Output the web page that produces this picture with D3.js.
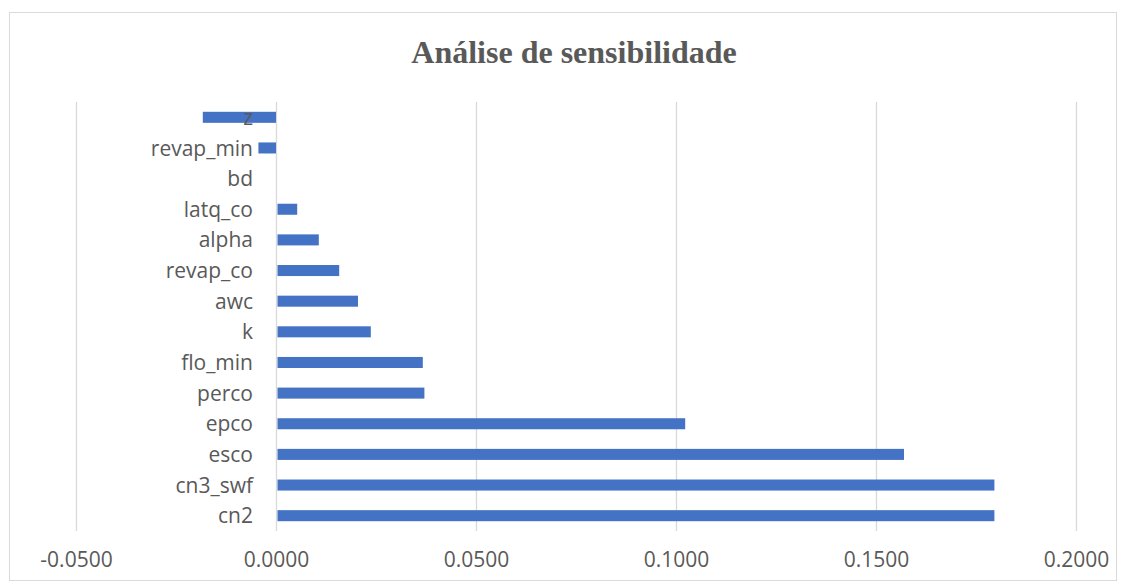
<!DOCTYPE html>
<html>
<head>
<meta charset="utf-8">
<script src="https://cdn.jsdelivr.net/npm/d3@7"></script>
<style>
  body { margin: 0; background: #fff; }
</style>
</head>
<body>
<svg id="chart"></svg>
<script>
// categories listed top to bottom
var categories = ["z", "revap_min", "bd", "latq_co", "alpha", "revap_co", "awc", "k",
                  "flo_min", "perco", "epco", "esco", "cn3_swf", "cn2"];
var values = [-0.0183, -0.0044, 0.0000, 0.0053, 0.0107, 0.0158, 0.0205, 0.0237,
              0.0367, 0.0371, 0.1023, 0.1570, 0.1796, 0.1796];
var ticks = [-0.05, 0, 0.05, 0.10, 0.15, 0.20];

var W = 1123, H = 585;
var mLeft = 76, mRight = 1076, mTop = 102, mBottom = 531;

var svg = d3.select("#chart")
    .attr("width", W)
    .attr("height", H);

// outer chart frame
svg.append("rect")
    .attr("x", 9.5).attr("y", 12.5)
    .attr("width", 1107).attr("height", 568)
    .attr("fill", "#fff")
    .attr("stroke", "#d9d9d9");

svg.append("text")
    .attr("x", 574).attr("y", 63)
    .attr("text-anchor", "middle")
    .attr("font-family", "Liberation Serif, Times New Roman, serif")
    .attr("font-weight", "bold")
    .attr("font-size", 32)
    .attr("fill", "#595959")
    .text("Análise de sensibilidade");

var x = d3.scaleLinear().domain([-0.05, 0.2]).range([mLeft, mRight]);
var y = d3.scaleBand().domain(categories).range([mTop, mBottom]).paddingInner(0.64).paddingOuter(0.32);

// grid
svg.append("g").selectAll("line").data(ticks).join("line")
    .attr("x1", d => x(d) + 0.5).attr("x2", d => x(d) + 0.5)
    .attr("y1", mTop).attr("y2", mBottom)
    .attr("stroke", "#d9d9d9")
    .attr("stroke-width", 1.3);

var fmt = d3.format(".4f");
var xAxis = svg.append("g")
    .attr("transform", `translate(0,${mBottom})`)
    .call(d3.axisBottom(x).tickValues(ticks).tickFormat(d => fmt(d).replace("−", "-")).tickSize(0).tickPadding(21));
xAxis.select(".domain").remove();
xAxis.selectAll("text")
    .attr("font-family", "Open Sans, sans-serif")
    .attr("font-size", 21)
    .attr("fill", "#595959");

// bars
svg.append("g").selectAll("rect").data(values).join("rect")
    .attr("x", d => x(Math.min(0, d)) + (d > 0 ? 1.5 : 0))
    .attr("y", (d, i) => y(categories[i]))
    .attr("width", d => Math.max(0, Math.abs(x(d) - x(0)) - (d > 0 ? 1.5 : 0)))
    .attr("height", y.bandwidth())
    .attr("fill", "#4472c4");

// category labels, Excel places them at the left of the zero line
svg.append("g").selectAll("text").data(categories).join("text")
    .attr("x", 253)
    .attr("y", d => y(d) + y.bandwidth() / 2)
    .attr("dy", "0.36em")
    .attr("text-anchor", "end")
    .attr("font-family", "Open Sans, sans-serif")
    .attr("font-size", 21)
    .attr("fill", "#595959")
    .text(d => d);
</script>
</body>
</html>
